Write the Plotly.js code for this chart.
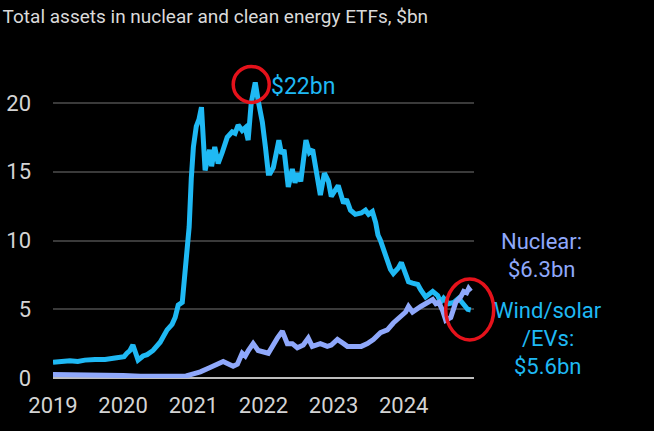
<!DOCTYPE html>
<html>
<head>
<meta charset="utf-8">
<script src="https://cdn.plot.ly/plotly-3.0.1.min.js"></script>
<style>html,body{margin:0;padding:0;background:#000;}#chart{width:654px;height:431px;}</style>
</head>
<body>
<div id="chart"></div>
<script>
// ---- Data ----
const windDates = ["2019-01-01","2019-02-06","2019-03-30","2019-05-10","2019-06-16","2019-08-08","2019-09-29","2019-11-20","2020-01-06","2020-01-21","2020-02-06","2020-02-21","2020-03-05","2020-03-19","2020-04-14","2020-05-05","2020-06-05","2020-07-12","2020-08-17","2020-09-12","2020-09-28","2020-10-14","2020-11-04","2020-11-10","2020-11-20","2020-11-30","2020-12-10","2020-12-21","2021-01-01","2021-01-16","2021-01-30","2021-02-12","2021-02-20","2021-03-03","2021-03-26","2021-04-06","2021-04-22","2021-05-10","2021-05-31","2021-06-26","2021-07-22","2021-08-06","2021-08-22","2021-09-12","2021-09-28","2021-10-13","2021-10-29","2021-11-19","2021-12-04","2021-12-26","2022-01-11","2022-01-26","2022-02-05","2022-02-21","2022-03-22","2022-04-05","2022-04-18","2022-05-10","2022-05-31","2022-06-14","2022-06-28","2022-07-14","2022-08-10","2022-08-28","2022-09-14","2022-10-08","2022-10-24","2022-11-14","2022-12-05","2022-12-20","2023-01-25","2023-02-22","2023-03-09","2023-03-30","2023-04-24","2023-05-25","2023-06-16","2023-07-02","2023-07-22","2023-08-08","2023-08-20","2023-09-02","2023-09-18","2023-10-08","2023-10-24","2023-11-08","2023-12-04","2023-12-20","2024-01-11","2024-01-26","2024-02-16","2024-03-14","2024-03-30","2024-04-24","2024-05-31","2024-06-26","2024-07-12","2024-07-27","2024-08-22","2024-09-18","2024-10-13","2024-11-08","2024-11-29","2024-12-15"];
const windValues = [1.15,1.2,1.25,1.2,1.3,1.35,1.35,1.45,1.55,1.8,2.0,2.4,1.8,1.3,1.6,1.7,2.0,2.6,3.5,3.9,4.4,5.3,5.5,6.4,7.2,8.6,11.0,14.5,16.8,18.3,18.8,19.7,17.5,15.1,16.6,15.4,16.8,15.6,16.4,17.5,17.9,17.8,18.4,18.0,18.2,17.3,20.0,21.5,20.2,18.6,16.8,14.9,14.9,15.3,17.3,16.3,16.6,13.9,15.2,14.2,14.9,14.3,17.3,16.4,16.6,14.9,13.3,14.9,14.3,13.2,14.0,12.7,13.0,12.2,11.9,12.0,12.2,11.9,12.1,11.3,10.4,10.0,9.3,8.6,7.9,7.6,8.0,8.4,7.6,7.0,6.9,6.8,6.4,5.9,6.3,6.0,5.5,5.8,5.4,5.5,5.8,5.4,5.0,4.95];

const nuclearDates = ["2019-01-01","2019-04-01","2019-07-01","2019-10-01","2020-01-01","2020-04-01","2020-07-01","2020-10-01","2020-11-24","2021-01-01","2021-02-06","2021-03-26","2021-05-10","2021-06-05","2021-07-27","2021-08-18","2021-09-12","2021-09-28","2021-10-14","2021-11-08","2021-12-04","2022-01-01","2022-01-26","2022-03-14","2022-04-09","2022-05-05","2022-05-31","2022-06-26","2022-07-27","2022-08-22","2022-09-12","2022-10-24","2022-11-29","2022-12-20","2023-01-21","2023-02-22","2023-03-14","2023-04-24","2023-05-25","2023-06-26","2023-07-27","2023-09-02","2023-10-08","2023-11-08","2023-12-15","2024-01-11","2024-01-26","2024-02-16","2024-03-30","2024-05-05","2024-05-31","2024-06-16","2024-07-02","2024-07-22","2024-08-07","2024-09-02","2024-09-28","2024-10-24","2024-11-08","2024-11-24","2024-12-04","2024-12-15"];
const nuclearValues = [0.25,0.25,0.22,0.2,0.18,0.12,0.12,0.12,0.15,0.3,0.45,0.75,1.05,1.2,0.85,1.0,1.8,1.6,2.0,2.5,2.0,1.9,1.8,2.9,3.4,2.5,2.5,2.2,2.4,2.9,2.3,2.5,2.3,2.4,2.8,2.5,2.3,2.3,2.3,2.5,2.8,3.3,3.5,4.0,4.4,4.8,5.2,4.8,5.2,5.5,5.7,5.4,5.5,4.9,4.2,4.4,5.5,5.9,6.3,6.2,6.5,6.3];

const yTicks = [0, 5, 10, 15, 20];
const xTicks = ["2019-01-01","2020-01-01","2021-01-01","2022-01-01","2023-01-01","2024-01-01"];
const xTickText = ["2019","2020","2021","2022","2023","2024"];
const titleText = "Total assets in nuclear and clean energy ETFs, $bn";
const peakLabel = "$22bn";
const nuclearLabel = ["Nuclear:", "$6.3bn"];
const windLabel = ["Wind/solar", "/EVs:", "$5.6bn"];

// ---- Styling ----
const FONT = "Roboto, Liberation Sans, sans-serif";
const BLUE = "#1fb9f4";
const NUC = "#8fa8fb";
const RED = "#e5121b";
const TXT = "#d4d4d4";
const X_RANGE = ["2019-01-01", "2025-01-01"];
const Y_RANGE = [0, 24];

const traces = [
  {x: windDates, y: windValues, type: "scatter", mode: "lines",
   line: {color: BLUE, width: 5, shape: "linear"}, hoverinfo: "skip"},
  {x: nuclearDates, y: nuclearValues, type: "scatter", mode: "lines",
   line: {color: NUC, width: 5, shape: "linear"}, hoverinfo: "skip"}
];

// anchors derived from the data
let pk = 0;
windValues.forEach((v, i) => { if (v > windValues[pk]) pk = i; });
const peakDate = windDates[pk], peakVal = windValues[pk];
const wLast = windDates.length - 1, nLast = nuclearDates.length - 1;
const t0 = Date.parse(X_RANGE[0]), t1 = Date.parse(X_RANGE[1]);
const px = d => (Date.parse(d) - t0) / (t1 - t0);          // date -> paper fraction
const py = v => (v - Y_RANGE[0]) / (Y_RANGE[1] - Y_RANGE[0]); // value -> paper fraction

const annotations = [
  {x: peakDate, y: peakVal, xref: "x", yref: "y", text: peakLabel, showarrow: false,
   xanchor: "left", yanchor: "middle", xshift: 14, yshift: -4,
   font: {family: FONT, size: 23, color: BLUE}}
];
nuclearLabel.forEach((t, i) => annotations.push({
  x: px(nuclearDates[nLast]), y: py(nuclearValues[nLast]), xref: "paper", yref: "paper", text: t, showarrow: false,
  xanchor: "center", yanchor: "middle", xshift: 71, yshift: 50 - i * 28,
  font: {family: FONT, size: 22, color: NUC}}));
windLabel.forEach((t, i) => annotations.push({
  x: px(windDates[wLast]), y: py(windValues[wLast]), xref: "paper", yref: "paper", text: t, showarrow: false,
  xanchor: "center", yanchor: "middle", xshift: 77, yshift: -1 - i * 28,
  font: {family: FONT, size: 22, color: BLUE}}));

const shapes = [
  {type: "circle", xref: "paper", yref: "paper", xsizemode: "pixel", ysizemode: "pixel",
   xanchor: px(peakDate), yanchor: py(peakVal), x0: -22, x1: 14, y0: -20, y1: 16,
   line: {color: RED, width: 3.5}, fillcolor: "rgba(0,0,0,0)"},
  {type: "circle", xref: "paper", yref: "paper", xsizemode: "pixel", ysizemode: "pixel",
   xanchor: px(windDates[wLast]), yanchor: py(windValues[wLast]), x0: -25, x1: 23, y0: -30, y1: 31,
   line: {color: RED, width: 3.5}, fillcolor: "rgba(0,0,0,0)"}
];

const layout = {
  width: 654, height: 431,
  paper_bgcolor: "#000", plot_bgcolor: "#000",
  margin: {l: 53, r: 180, t: 48, b: 53, pad: 0},
  showlegend: false,
  font: {family: FONT, color: TXT},
  title: {text: titleText, x: 0.004, xanchor: "left", xref: "container",
          y: 0.963, yanchor: "middle", yref: "container",
          font: {family: FONT, size: 19, color: "#dadada"}},
  xaxis: {type: "date", range: X_RANGE, tickvals: xTicks, ticktext: xTickText,
          showgrid: false, zeroline: false, showline: false, ticks: "",
          ticklabelstandoff: 12, tickfont: {family: FONT, size: 22, color: TXT}, fixedrange: true},
  yaxis: {range: Y_RANGE, tickvals: yTicks, ticktext: yTicks.map(String), showgrid: true,
          gridcolor: "#3a3a3a", gridwidth: 2, zeroline: true, zerolinecolor: "#bdbdbd", zerolinewidth: 2,
          showline: false, ticks: "", ticklabelstandoff: 21,
          tickfont: {family: FONT, size: 22, color: TXT}, fixedrange: true},
  annotations: annotations,
  shapes: shapes
};

Plotly.newPlot("chart", traces, layout, {staticPlot: true, displayModeBar: false});
</script>
</body>
</html>
